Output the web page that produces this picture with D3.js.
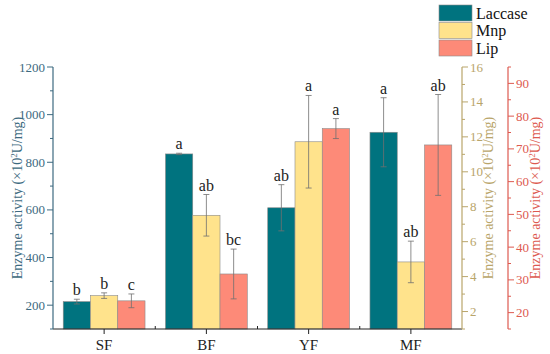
<!DOCTYPE html>
<html>
<head>
<meta charset="utf-8">
<script src="https://cdn.jsdelivr.net/npm/d3@7"></script>
<style>
  body { margin: 0; background: #fff; }
  svg text { font-family: "Liberation Serif", "Times New Roman", Times, "DejaVu Serif", serif; }
</style>
</head>
<body>
<div id="chart"></div>
<script>
// Data
const categories = ["SF", "BF", "YF", "MF"];
const seriesNames = ["Laccase", "Mnp", "Lip"];
const laccase = [215, 835, 609, 926];
const laccaseErr = [10, 3, 97, 145];
const mnp = [2.91, 7.51, 11.72, 4.84];
const mnpErr = [0.16, 1.19, 2.65, 1.19];
const lip = [23.6, 31.8, 76.2, 71.2];
const lipErr = [2.1, 7.6, 3.05, 15.4];
const letters = [
  ["b", "a", "ab", "a"],
  ["b", "ab", "a", "ab"],
  ["c", "bc", "a", "ab"]
];
const leftTicks = [200, 400, 600, 800, 1000, 1200];
const midTicks = [2, 4, 6, 8, 10, 12, 14, 16];
const rightTicks = [20, 30, 40, 50, 60, 70, 80, 90];

const width = 550, height = 354;
const margin = { top: 67, right: 88, bottom: 25, left: 53 };
const plotW = width - margin.left - margin.right; // 409
const plotH = height - margin.top - margin.bottom; // 262

const colors = ["#00737f", "#ffe38c", "#fd8a78"];
const axisColors = ["#3d6a80", "#b9a56a", "#dd5a50"];

const svg = d3.select("#chart").append("svg")
  .attr("width", width)
  .attr("height", height);

const g = svg.append("g")
  .attr("transform", `translate(${margin.left},${margin.top})`);

// Scales
const x = d3.scaleBand()
  .domain(categories)
  .range([0, plotW])
  .paddingInner(0.2)
  .paddingOuter(0.1);

const xs = d3.scaleBand()
  .domain(seriesNames)
  .range([0, x.bandwidth()]);

const yLeft = d3.scaleLinear().domain([100, 1200]).range([plotH, 0]);
const yMid = d3.scaleLinear().domain([1, 16]).range([plotH, 0]);
const yRight = d3.scaleLinear().domain([15, 95]).range([plotH, 0]);

const series = [
  { name: "Laccase", values: laccase, errs: laccaseErr, y: yLeft },
  { name: "Mnp", values: mnp, errs: mnpErr, y: yMid },
  { name: "Lip", values: lip, errs: lipErr, y: yRight }
];

// Bars
series.forEach((s, si) => {
  const grp = g.append("g");
  grp.selectAll("rect")
    .data(categories)
    .join("rect")
    .attr("x", (c) => x(c) + xs(s.name))
    .attr("y", (c, i) => s.y(s.values[i]))
    .attr("width", xs.bandwidth())
    .attr("height", (c, i) => plotH - s.y(s.values[i]))
    .attr("fill", colors[si])
    .attr("stroke", "#8a8a8a")
    .attr("stroke-width", 0.6);

  // error bars
  categories.forEach((c, i) => {
    const cx = x(c) + xs(s.name) + xs.bandwidth() / 2;
    const y1 = s.y(s.values[i] + s.errs[i]);
    const y2 = s.y(s.values[i] - s.errs[i]);
    grp.append("line")
      .attr("x1", cx).attr("x2", cx)
      .attr("y1", y1).attr("y2", y2)
      .attr("stroke", "#707070").attr("stroke-width", 0.8);
    [y1, y2].forEach((yy) => {
      grp.append("line")
        .attr("x1", cx - 3).attr("x2", cx + 3)
        .attr("y1", yy).attr("y2", yy)
        .attr("stroke", "#707070").attr("stroke-width", 0.8);
    });
    grp.append("text")
      .attr("x", cx)
      .attr("y", y1 - 4)
      .attr("text-anchor", "middle")
      .attr("font-size", 16)
      .attr("fill", "#222")
      .text(letters[si][i]);
  });
});

// X axis
const xAxisG = g.append("g")
  .attr("transform", `translate(0,${plotH})`);
xAxisG.append("line")
  .attr("x1", 0).attr("x2", plotW)
  .attr("stroke", "#222").attr("stroke-width", 1);
xAxisG.selectAll("line.major")
  .data(categories)
  .join("line")
  .attr("class", "major")
  .attr("x1", (c) => x(c) + x.bandwidth() / 2)
  .attr("x2", (c) => x(c) + x.bandwidth() / 2)
  .attr("y1", 0).attr("y2", 5)
  .attr("stroke", "#222");
xAxisG.selectAll("line.minor")
  .data(categories.slice(1))
  .join("line")
  .attr("class", "minor")
  .attr("x1", (c) => x(c) - x.step() * x.paddingInner() / 2)
  .attr("x2", (c) => x(c) - x.step() * x.paddingInner() / 2)
  .attr("y1", 0).attr("y2", -3)
  .attr("stroke", "#222");
xAxisG.selectAll("text")
  .data(categories)
  .join("text")
  .attr("x", (c) => x(c) + x.bandwidth() / 2)
  .attr("y", 21)
  .attr("text-anchor", "middle")
  .attr("font-size", 15)
  .attr("fill", "#222")
  .text((c) => c);

// Y axes helper
function drawAxis(scale, ticks, xPos, side, color, titleX) {
  const ax = g.append("g").attr("transform", `translate(${xPos},0)`);
  const dir = side === "left" ? -1 : 1;
  ax.append("line")
    .attr("y1", 0).attr("y2", plotH)
    .attr("stroke", color).attr("stroke-width", 1.2);
  // minor ticks at midpoints
  const step = ticks[1] - ticks[0];
  const minor = [];
  for (let i = 0; i < ticks.length; i++) {
    const m = ticks[i] - step / 2;
    if (scale(m) <= plotH) minor.push(m);
  }
  if (scale(ticks[ticks.length - 1] + step / 2) >= 0) minor.push(ticks[ticks.length - 1] + step / 2);
  ax.selectAll("line.minor")
    .data(minor)
    .join("line")
    .attr("class", "minor")
    .attr("x1", 0).attr("x2", dir * 3)
    .attr("y1", (d) => scale(d)).attr("y2", (d) => scale(d))
    .attr("stroke", color);
  ax.selectAll("line.major")
    .data(ticks)
    .join("line")
    .attr("class", "major")
    .attr("x1", 0).attr("x2", dir * 6)
    .attr("y1", (d) => scale(d)).attr("y2", (d) => scale(d))
    .attr("stroke", color);
  ax.selectAll("text.tick")
    .data(ticks)
    .join("text")
    .attr("class", "tick")
    .attr("x", dir * 8)
    .attr("y", (d) => scale(d))
    .attr("dy", "0.35em")
    .attr("text-anchor", side === "left" ? "end" : "start")
    .attr("font-size", 13)
    .attr("fill", color)
    .text((d) => d);
  const t = g.append("text")
    .attr("transform", `translate(${titleX},${plotH / 2}) rotate(-90)`)
    .attr("text-anchor", "middle")
    .attr("dy", "0.35em")
    .attr("font-size", 14)
    .attr("fill", color);
  t.append("tspan").text("Enzyme activity (×10");
  t.append("tspan").attr("baseline-shift", "super").attr("font-size", 9).text("2");
  t.append("tspan").text("U/mg)");
}

drawAxis(yLeft, leftTicks, 0, "left", axisColors[0], -36);
drawAxis(yMid, midTicks, plotW, "right", axisColors[1], 435);
drawAxis(yRight, rightTicks, 455, "right", axisColors[2], 482);

// Legend
const legend = svg.append("g").attr("transform", "translate(439,5)");
seriesNames.forEach((n, i) => {
  legend.append("rect")
    .attr("x", 0).attr("y", i * 17.5)
    .attr("width", 33).attr("height", 16)
    .attr("fill", colors[i])
    .attr("stroke", "#8a8a8a").attr("stroke-width", 0.6);
  legend.append("text")
    .attr("x", 37).attr("y", i * 17.5 + 8)
    .attr("dy", "0.35em")
    .attr("font-size", 16)
    .attr("fill", "#111")
    .text(n);
});
</script>
</body>
</html>
